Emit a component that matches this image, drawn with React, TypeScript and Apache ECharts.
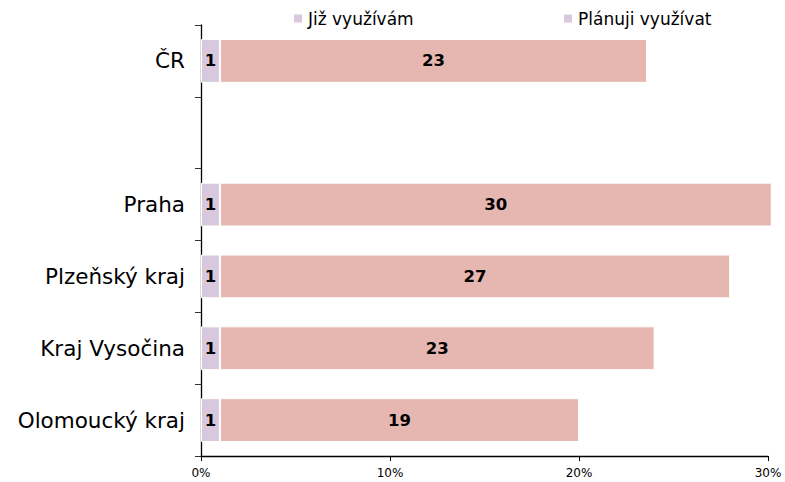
import React, { useEffect, useRef } from "react";
import * as echarts from "echarts";

const categories = ["ČR", "", "Praha", "Plzeňský kraj", "Kraj Vysočina", "Olomoucký kraj"];
const seriesNames = ["Již využívám", "Plánuji využívat"];
const usingNow = [1.0, null, 1.0, 1.0, 1.0, 1.0];
const planning = [22.6, null, 29.2, 27.0, 23.0, 19.0];
const usingNowLabels = ["1", "", "1", "1", "1", "1"];
const planningLabels = ["23", "", "30", "27", "23", "19"];
const xTicks = { min: 0, max: 30, interval: 10 };

const FONT = "DejaVu Sans, Verdana, sans-serif";
const COLOR_A = "#d8c8dd";
const COLOR_B = "#e6b6b0";

export default function App() {
  const ref = useRef<HTMLDivElement>(null);
  useEffect(() => {
    if (!ref.current) return;
    const chart = echarts.init(ref.current, undefined, { renderer: "svg" });
    const labelCfg = (labels: string[]) => ({
      show: true,
      position: "inside",
      color: "#000",
      fontFamily: FONT,
      fontWeight: "bold",
      fontSize: 16.5,
      formatter: (p: any) => labels[p.dataIndex] ?? "",
    });
    const legendBase = {
      top: 5,
      itemWidth: 10,
      itemHeight: 10,
      itemGap: 5,
      icon: "rect",
      textStyle: { fontSize: 17, color: "#000", fontFamily: FONT, padding: [0, 0, 0, 0] },
    };
    chart.setOption({
      animation: false,
      textStyle: { fontFamily: FONT },
      legend: [
        {
          ...legendBase,
          left: 287,
          data: [{ name: seriesNames[0], itemStyle: { color: COLOR_A } }],
        },
        {
          ...legendBase,
          left: 557,
          data: [{ name: seriesNames[1], itemStyle: { color: COLOR_A } }],
        },
      ],
      grid: { left: 201, right: 17, top: 25, bottom: 26, containLabel: false },
      xAxis: {
        type: "value",
        min: xTicks.min,
        max: xTicks.max,
        interval: xTicks.interval,
        axisLine: { show: true, lineStyle: { color: "#000", width: 1.3 } },
        axisTick: { show: true, length: 5, lineStyle: { color: "#000" } },
        splitLine: { show: false },
        axisLabel: {
          formatter: "{value}%",
          fontSize: 12,
          color: "#000",
          margin: 11,
          fontFamily: FONT,
        },
      },
      yAxis: {
        type: "category",
        inverse: true,
        data: categories,
        axisLine: { show: true, lineStyle: { color: "#000", width: 1.3 } },
        axisTick: { show: true, length: 6, lineStyle: { color: "#333" } },
        axisLabel: { fontSize: 21.5, color: "#000", margin: 16, fontFamily: FONT },
      },
      series: [
        {
          name: seriesNames[0],
          type: "bar",
          stack: "total",
          clip: false,
          barCategoryGap: "39%",
          data: usingNow,
          itemStyle: { color: COLOR_A, borderColor: "#fff", borderWidth: 1 },
          label: labelCfg(usingNowLabels),
        },
        {
          name: seriesNames[1],
          type: "bar",
          stack: "total",
          clip: false,
          barCategoryGap: "39%",
          data: planning,
          itemStyle: { color: COLOR_B, borderColor: "#fff", borderWidth: 1 },
          label: labelCfg(planningLabels),
        },
      ],
    });
    return () => chart.dispose();
  }, []);
  return <div ref={ref} style={{ width: 785, height: 482, position: "absolute", left: 0, top: 0 }} />;
}
